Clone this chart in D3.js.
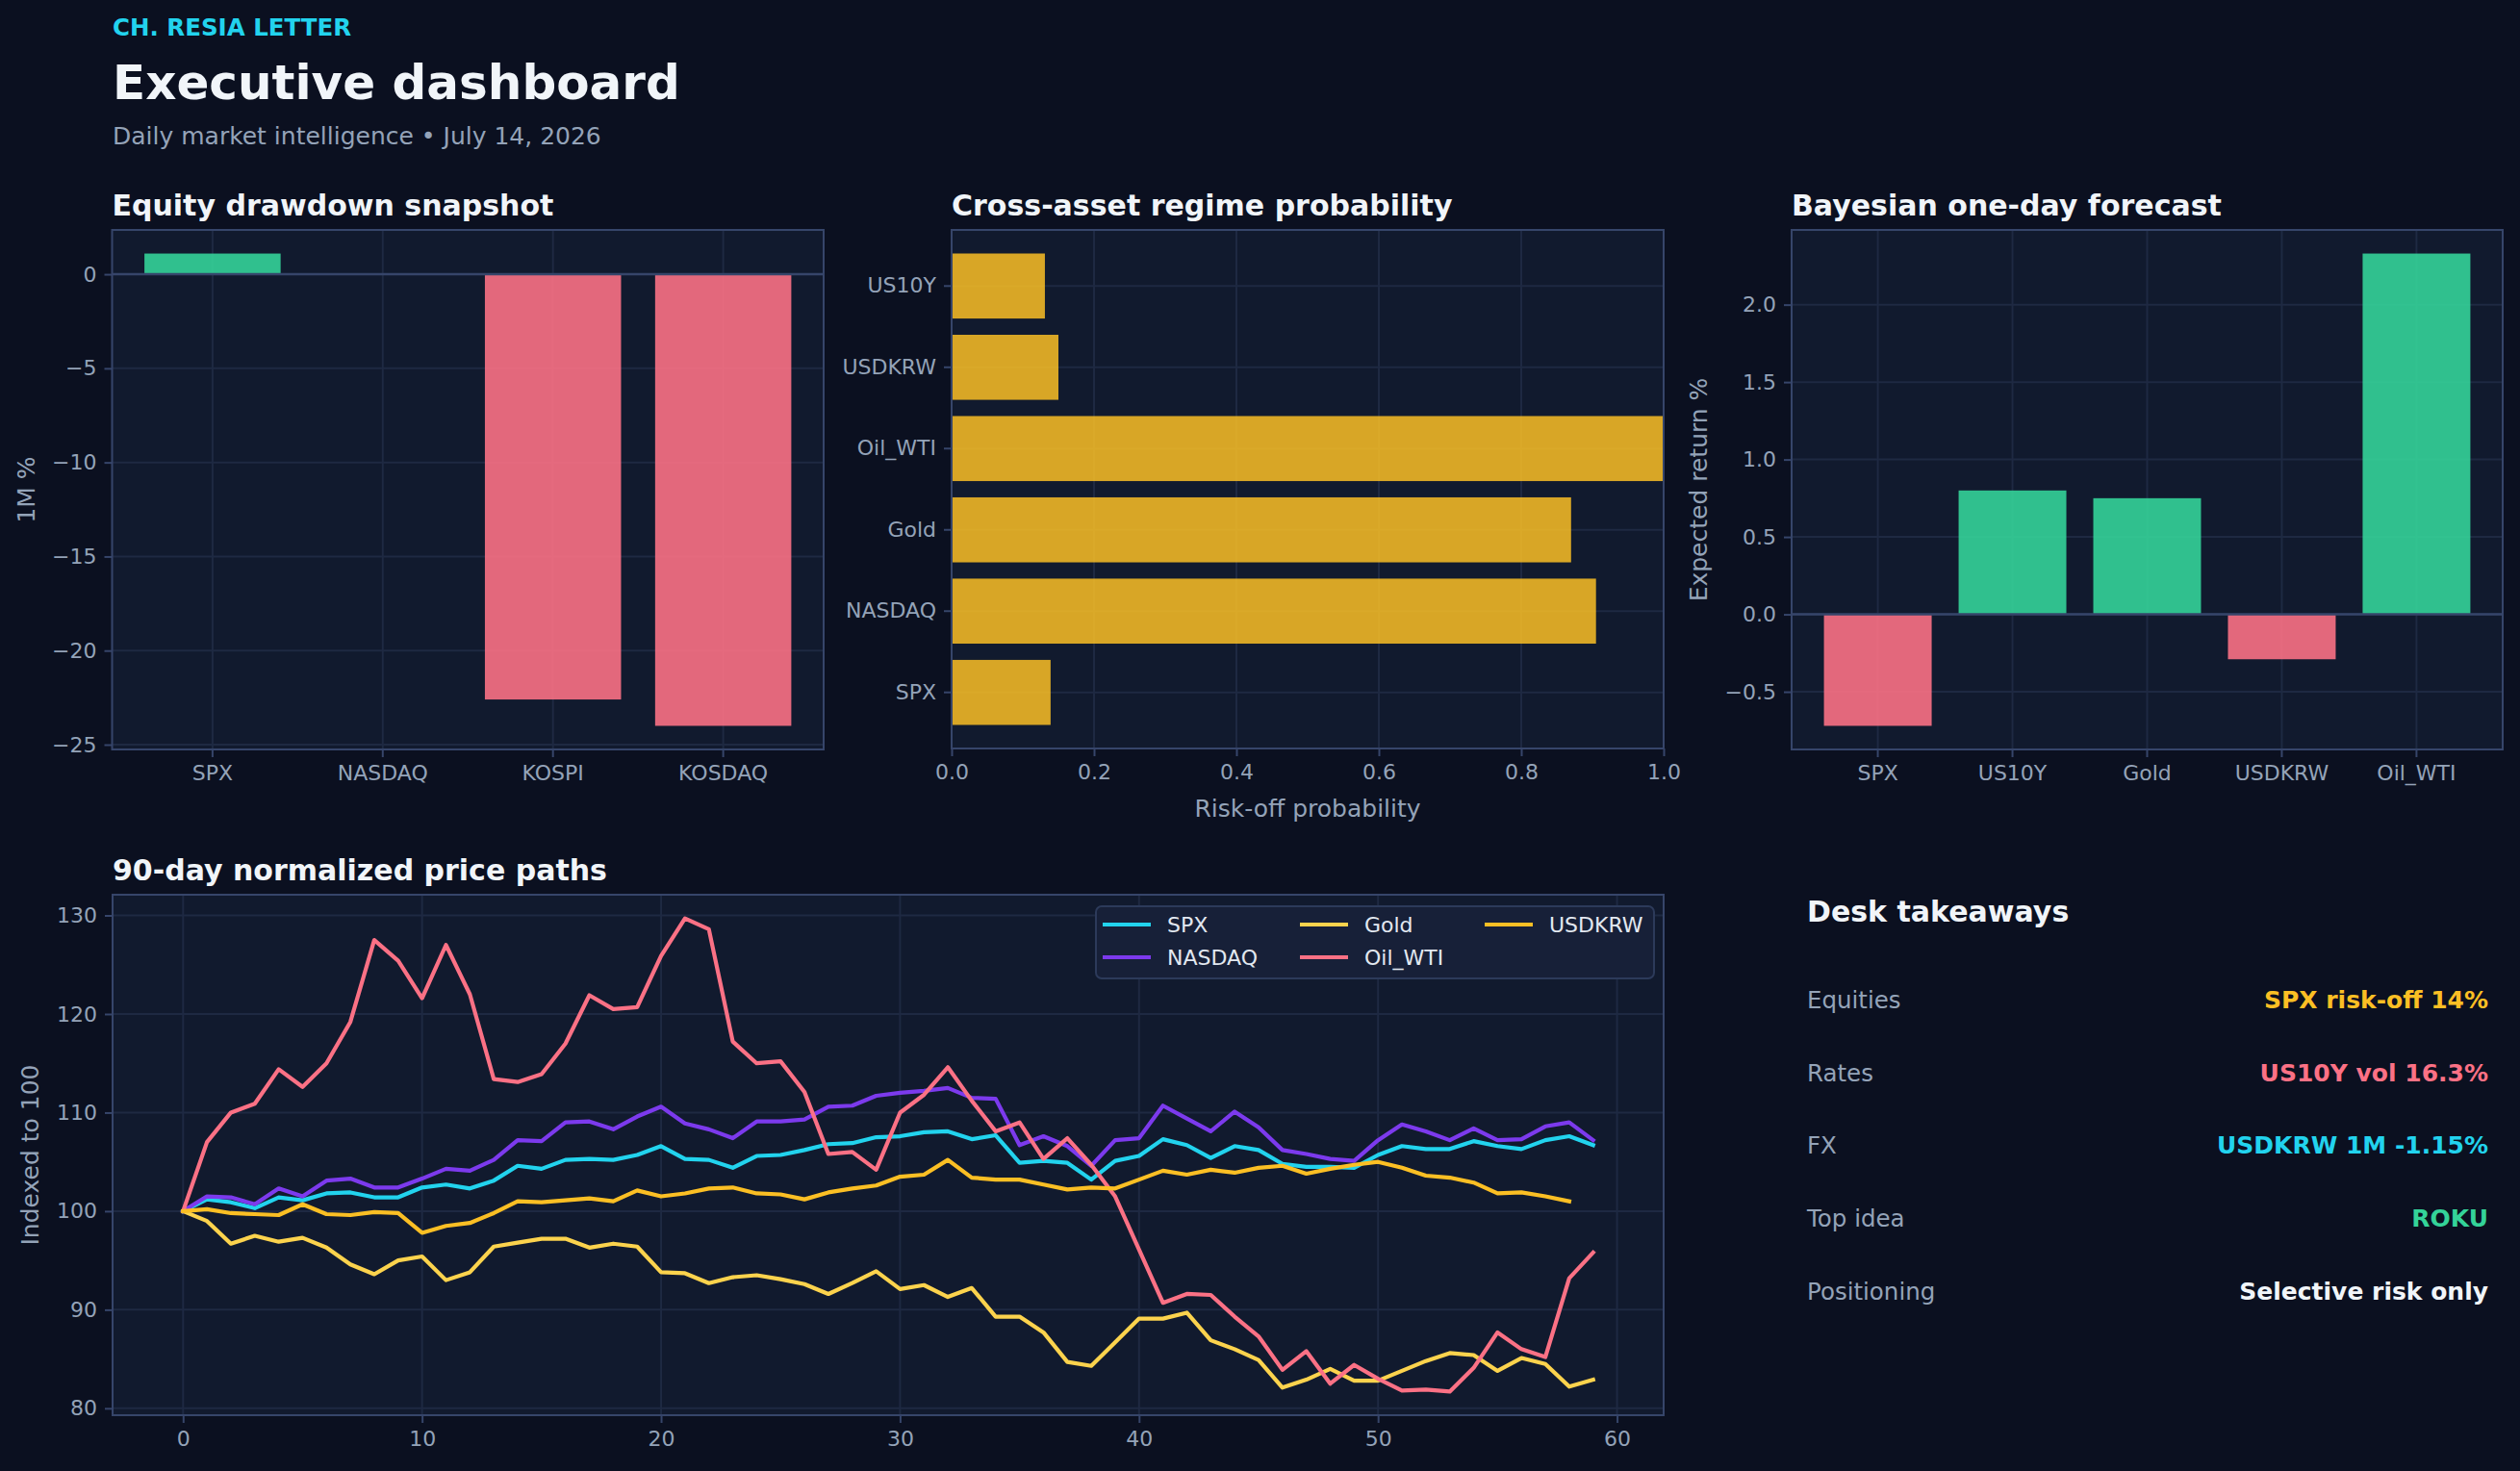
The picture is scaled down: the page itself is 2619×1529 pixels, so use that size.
<!DOCTYPE html>
<html>
<head>
<meta charset="utf-8">
<script src="https://cdn.jsdelivr.net/npm/d3@7"></script>
<style>
  html, body { margin: 0; padding: 0; background: #0b1020; }
  svg { display: block; font-family: "DejaVu Sans", sans-serif; }
</style>
</head>
<body>
<svg id="chart" width="2619" height="1529"></svg>
<script>
// ---- data ----
var drawdownCats = ["SPX", "NASDAQ", "KOSPI", "KOSDAQ"];
var drawdownVals = [1.1, 0.0, -22.6, -24.0];
var drawdownTicks = [0, -5, -10, -15, -20, -25];

var regimeCats = ["SPX", "NASDAQ", "Gold", "Oil_WTI", "USDKRW", "US10Y"];
var regimeVals = [0.139, 0.905, 0.870, 1.0, 0.150, 0.131];
var regimeTicks = [0, 0.2, 0.4, 0.6, 0.8, 1.0];

var forecastCats = ["SPX", "US10Y", "Gold", "USDKRW", "Oil_WTI"];
var forecastVals = [-0.72, 0.80, 0.75, -0.29, 2.33];
var forecastTicks = [-0.5, 0, 0.5, 1.0, 1.5, 2.0];

var pathNames = ["SPX", "NASDAQ", "Gold", "Oil_WTI", "USDKRW"];
var spxPath = [100, 101.2, 100.9, 100.3, 101.4, 101.1, 101.8, 101.9, 101.4, 101.4,
  102.4, 102.7, 102.3, 103.1, 104.6, 104.3, 105.2, 105.3, 105.2, 105.7,
  106.6, 105.3, 105.2, 104.4, 105.6, 105.7, 106.2, 106.8, 106.9, 107.5,
  107.6, 108.0, 108.1, 107.3, 107.7, 104.9, 105.1, 104.9, 103.2, 105.1,
  105.6, 107.3, 106.7, 105.4, 106.6, 106.2, 104.8, 104.5, 104.5, 104.4,
  105.7, 106.6, 106.3, 106.3, 107.1, 106.6, 106.3, 107.2, 107.6, 106.7];
var nasdaqPath = [100, 101.5, 101.4, 100.7, 102.3, 101.5, 103.1, 103.3, 102.4, 102.4,
  103.3, 104.3, 104.1, 105.2, 107.2, 107.1, 109.0, 109.1, 108.3, 109.6,
  110.6, 108.9, 108.3, 107.4, 109.1, 109.1, 109.3, 110.6, 110.7, 111.7,
  112.0, 112.2, 112.5, 111.5, 111.4, 106.7, 107.6, 106.6, 104.6, 107.2,
  107.4, 110.7, 109.4, 108.1, 110.1, 108.5, 106.2, 105.8, 105.3, 105.1,
  107.2, 108.8, 108.1, 107.2, 108.4, 107.2, 107.3, 108.6, 109.0, 107.2];
var goldPath = [100, 99.0, 96.7, 97.5, 96.9, 97.3, 96.3, 94.6, 93.6, 95.0,
  95.4, 93.0, 93.8, 96.4, 96.8, 97.2, 97.2, 96.3, 96.7, 96.4,
  93.8, 93.7, 92.7, 93.3, 93.5, 93.1, 92.6, 91.6, 92.7, 93.9,
  92.1, 92.5, 91.3, 92.2, 89.3, 89.3, 87.7, 84.7, 84.3, 86.7,
  89.1, 89.1, 89.7, 86.9, 86.0, 84.9, 82.1, 82.9, 84.0, 82.8,
  82.8, 83.8, 84.8, 85.6, 85.4, 83.8, 85.1, 84.5, 82.2, 82.9];
var oilPath = [100, 107.0, 110.0, 110.9, 114.4, 112.6, 115.0, 119.2, 127.5, 125.4,
  121.6, 127.0, 122.0, 113.4, 113.1, 113.9, 117.0, 121.9, 120.5, 120.7,
  125.9, 129.7, 128.6, 117.2, 115.0, 115.2, 112.1, 105.8, 106.0, 104.2,
  110.0, 111.8, 114.6, 111.2, 108.1, 109.0, 105.3, 107.4, 104.7, 101.5,
  96.1, 90.7, 91.6, 91.5, 89.3, 87.3, 83.9, 85.8, 82.5, 84.4,
  83.0, 81.8, 81.9, 81.7, 84.1, 87.7, 86.0, 85.2, 93.2, 95.8];
var usdkrwPath = [100, 100.2, 99.8, 99.7, 99.6, 100.7, 99.7, 99.6, 99.9, 99.8,
  97.8, 98.5, 98.8, 99.8, 101.0, 100.9, 101.1, 101.3, 101.0, 102.1,
  101.5, 101.8, 102.3, 102.4, 101.8, 101.7, 101.2, 101.9, 102.3, 102.6,
  103.5, 103.7, 105.2, 103.4, 103.2, 103.2, 102.7, 102.2, 102.4, 102.3,
  103.2, 104.1, 103.7, 104.2, 103.9, 104.4, 104.6, 103.8, 104.3, 104.7,
  105.0, 104.4, 103.6, 103.4, 102.9, 101.8, 101.9, 101.5, 101.0];
var pathTicksX = [0, 10, 20, 30, 40, 50, 60];
var pathTicksY = [80, 90, 100, 110, 120, 130];

var takeawayLabels = ["Equities", "Rates", "FX", "Top idea", "Positioning"];
var takeawayValues = ["SPX risk-off 14%", "US10Y vol 16.3%", "USDKRW 1M -1.15%", "ROKU", "Selective risk only"];

// ---- style ----
var FONT = "DejaVu Sans, sans-serif";
var BG = "#0b1020", FACE = "#111a2e", GRID = "#1e2942", SPINE = "#36456a";
var TICK = "#94a3b8", TITLE = "#f1f5f9";
var GREEN = "#34d399", RED = "#fb7185", AMBER = "#fbbf24";
var TICK_SIZE = "22px", LABEL_SIZE = "25px";
var pathColors = ["#22d3ee", "#7c3aed", "#fcd34d", "#fb7185", "#fbbf24"];
var takeawayColors = ["#fbbf24", "#fb7185", "#22d3ee", "#34d399", "#f1f5f9"];

var svg = d3.select("#chart");
svg.append("rect").attr("width", 2619).attr("height", 1529).attr("fill", BG);

// header
svg.append("text").attr("x", 117).attr("y", 37).attr("fill", "#22d3ee")
   .style("font-size", "24.5px").style("font-weight", "bold").text("CH. RESIA LETTER");
svg.append("text").attr("x", 117).attr("y", 103).attr("fill", TITLE)
   .style("font-size", "50px").style("font-weight", "bold").text("Executive dashboard");
svg.append("text").attr("x", 117).attr("y", 150).attr("fill", TICK)
   .style("font-size", "25px").text("Daily market intelligence \u2022 July 14, 2026");

function padDomain(lo, hi) {
    var m = (hi - lo) * 0.05;
    return [lo - m, hi + m];
}

var clipId = 0;
function panel(box, title) {
    svg.append("rect").attr("x", box.x).attr("y", box.y)
       .attr("width", box.w).attr("height", box.h).attr("fill", FACE);
    svg.append("text").attr("x", box.x).attr("y", box.y - 15).attr("fill", TITLE)
       .style("font-size", "30px").style("font-weight", "bold").text(title);
    var id = "clip" + (clipId++);
    svg.append("clipPath").attr("id", id).append("rect")
       .attr("x", box.x).attr("y", box.y).attr("width", box.w).attr("height", box.h);
    return svg.append("g").attr("clip-path", "url(#" + id + ")");
}

function spines(box) {
    svg.append("rect").attr("x", box.x).attr("y", box.y)
       .attr("width", box.w).attr("height", box.h)
       .attr("fill", "none").attr("stroke", SPINE).attr("stroke-width", 2);
}

function styleAxis(g) {
    g.select(".domain").remove();
    g.selectAll(".tick line").attr("stroke", SPINE).attr("stroke-width", 2);
    g.selectAll(".tick text").attr("fill", TICK)
     .style("font-size", TICK_SIZE).style("font-family", FONT);
}

function hGrid(g, box, y, ticks) {
    g.selectAll(null).data(ticks).enter().append("line")
     .attr("x1", box.x).attr("x2", box.x + box.w)
     .attr("y1", function(d) { return y(d); }).attr("y2", function(d) { return y(d); })
     .attr("stroke", GRID).attr("stroke-width", 2);
}
function vGrid(g, box, xs) {
    g.selectAll(null).data(xs).enter().append("line")
     .attr("y1", box.y).attr("y2", box.y + box.h)
     .attr("x1", function(d) { return d; }).attr("x2", function(d) { return d; })
     .attr("stroke", GRID).attr("stroke-width", 2);
}

function yLabel(text, cx, cy) {
    svg.append("text").attr("transform", "translate(" + cx + "," + cy + ") rotate(-90)")
       .attr("text-anchor", "middle").attr("dy", "0.35em").attr("fill", TICK)
       .style("font-size", LABEL_SIZE).text(text);
}

// vertical bar panel (drawdown + forecast)
function vbars(box, title, cats, vals, ticks, fmt, label, labelX) {
    var g = panel(box, title);
    var n = cats.length;
    var x = d3.scaleBand().domain(cats).range([box.x, box.x + box.w])
              .paddingInner(0.2).paddingOuter(0.05 * (n - 0.2));
    var y = d3.scaleLinear()
              .domain(padDomain(Math.min(0, d3.min(vals)), Math.max(0, d3.max(vals))))
              .range([box.y + box.h, box.y]);

    hGrid(g, box, y, ticks);
    vGrid(g, box, cats.map(function(c) { return x(c) + x.bandwidth() / 2; }));

    g.selectAll(".bar").data(cats).enter().append("rect")
     .attr("x", function(c) { return x(c); })
     .attr("width", x.bandwidth())
     .attr("y", function(c, i) { return y(Math.max(0, vals[i])); })
     .attr("height", function(c, i) { return Math.abs(y(vals[i]) - y(0)); })
     .attr("fill", function(c, i) { return vals[i] >= 0 ? GREEN : RED; })
     .attr("opacity", 0.9);

    g.append("line").attr("x1", box.x).attr("x2", box.x + box.w)
     .attr("y1", y(0)).attr("y2", y(0))
     .attr("stroke", SPINE).attr("stroke-width", 2.5);

    spines(box);
    styleAxis(svg.append("g").attr("transform", "translate(" + box.x + ",0)")
        .call(d3.axisLeft(y).tickValues(ticks).tickFormat(d3.format(fmt)).tickSize(8).tickPadding(8)));
    styleAxis(svg.append("g").attr("transform", "translate(0," + (box.y + box.h) + ")")
        .call(d3.axisBottom(x).tickSize(8).tickPadding(8)));
    yLabel(label, labelX, box.y + box.h / 2);
}

vbars({x: 116.5, y: 239, w: 739.5, h: 540}, "Equity drawdown snapshot",
      drawdownCats, drawdownVals, drawdownTicks, "d", "1M %", 27);
vbars({x: 1862, y: 239, w: 739, h: 540}, "Bayesian one-day forecast",
      forecastCats, forecastVals, forecastTicks, ".1f", "Expected return %", 1765);

// horizontal bars: regime probability
(function() {
    var box = {x: 989, y: 239, w: 740, h: 539};
    var g = panel(box, "Cross-asset regime probability");
    var n = regimeCats.length;
    var x = d3.scaleLinear().domain([0, 1]).range([box.x, box.x + box.w]);
    var y = d3.scaleBand().domain(regimeCats).range([box.y + box.h, box.y])
              .paddingInner(0.2).paddingOuter(0.05 * (n - 0.2));

    vGrid(g, box, regimeTicks.map(function(d) { return x(d); }));
    hGrid(g, box, function(c) { return y(c) + y.bandwidth() / 2; }, regimeCats);

    g.selectAll(".bar").data(regimeCats).enter().append("rect")
     .attr("x", x(0))
     .attr("y", function(c) { return y(c); })
     .attr("height", y.bandwidth())
     .attr("width", function(c, i) { return x(regimeVals[i]) - x(0); })
     .attr("fill", AMBER).attr("opacity", 0.85);

    spines(box);
    styleAxis(svg.append("g").attr("transform", "translate(" + box.x + ",0)")
        .call(d3.axisLeft(y).tickSize(8).tickPadding(8)));
    styleAxis(svg.append("g").attr("transform", "translate(0," + (box.y + box.h) + ")")
        .call(d3.axisBottom(x).tickValues(regimeTicks).tickFormat(d3.format(".1f")).tickSize(8).tickPadding(8)));
    svg.append("text").attr("x", box.x + box.w / 2).attr("y", 849)
       .attr("text-anchor", "middle").attr("fill", TICK)
       .style("font-size", LABEL_SIZE).text("Risk-off probability");
})();

// line chart: normalized price paths
(function() {
    var box = {x: 117, y: 930, w: 1612, h: 541};
    var g = panel(box, "90-day normalized price paths");
    var series = [spxPath, nasdaqPath, goldPath, oilPath, usdkrwPath];
    var maxLen = d3.max(series, function(s) { return s.length; });
    var allVals = d3.merge(series);
    var x = d3.scaleLinear().domain(padDomain(0, maxLen - 1)).range([box.x, box.x + box.w]);
    var y = d3.scaleLinear().domain(padDomain(d3.min(allVals), d3.max(allVals)))
              .range([box.y + box.h, box.y]);

    hGrid(g, box, y, pathTicksY);
    vGrid(g, box, pathTicksX.map(function(d) { return x(d); }));

    var line = d3.line()
        .x(function(d, i) { return x(i); })
        .y(function(d) { return y(d); });

    g.selectAll(".path").data(series).enter().append("path")
     .attr("d", line)
     .attr("fill", "none")
     .attr("stroke", function(d, i) { return pathColors[i]; })
     .attr("stroke-width", 4.2)
     .attr("stroke-linejoin", "round")
     .attr("stroke-linecap", "square");

    spines(box);
    styleAxis(svg.append("g").attr("transform", "translate(" + box.x + ",0)")
        .call(d3.axisLeft(y).tickValues(pathTicksY).tickFormat(d3.format("d")).tickSize(8).tickPadding(8)));
    styleAxis(svg.append("g").attr("transform", "translate(0," + (box.y + box.h) + ")")
        .call(d3.axisBottom(x).tickValues(pathTicksX).tickFormat(d3.format("d")).tickSize(8).tickPadding(8)));
    yLabel("Indexed to 100", 31, box.y + box.h / 2);

    // legend, 3 columns filled top-down
    var lg = svg.append("g");
    lg.append("rect").attr("x", 1139).attr("y", 942).attr("width", 580).attr("height", 75)
      .attr("rx", 6).attr("fill", "#172038").attr("stroke", "#2c3a5a").attr("stroke-width", 2);
    var colX = [1146, 1351, 1543], rowY = [961, 995];
    pathNames.forEach(function(name, i) {
        var cx = colX[Math.floor(i / 2)], cy = rowY[i % 2];
        lg.append("line").attr("x1", cx).attr("x2", cx + 50).attr("y1", cy).attr("y2", cy)
          .attr("stroke", pathColors[i]).attr("stroke-width", 4.2);
        lg.append("text").attr("x", cx + 67).attr("y", cy).attr("dy", "0.36em")
          .attr("fill", "#e2e8f0").style("font-size", TICK_SIZE).text(name);
    });
})();

// desk takeaways
svg.append("text").attr("x", 1878).attr("y", 958).attr("fill", TITLE)
   .style("font-size", "30px").style("font-weight", "bold").text("Desk takeaways");
var rows = svg.selectAll(".row").data(takeawayLabels).enter().append("g")
    .attr("transform", function(d, i) { return "translate(0," + (1048 + i * 75.7) + ")"; });
rows.append("text").attr("x", 1878).attr("fill", TICK)
    .style("font-size", "24.5px").text(function(d) { return d; });
rows.append("text").attr("x", 2586).attr("text-anchor", "end")
    .attr("fill", function(d, i) { return takeawayColors[i]; })
    .style("font-size", "25px").style("font-weight", "bold")
    .text(function(d, i) { return takeawayValues[i]; });
</script>
</body>
</html>
